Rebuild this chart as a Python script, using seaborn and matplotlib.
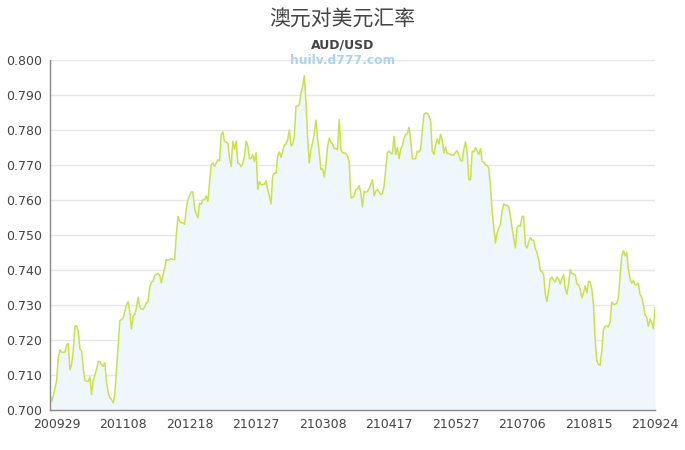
import pandas as pd
import seaborn as sns
import matplotlib.pyplot as plt
from matplotlib.ticker import MultipleLocator, FormatStrFormatter

# daily AUD/USD, first point 2020-09-25
start = "2020-09-25"
rate = [
    0.7045, 0.7025, 0.7040, 0.7062, 0.7085, 0.7150, 0.7172, 0.7165, 0.7165, 0.7165,
    0.7185, 0.7190, 0.7115, 0.7130, 0.7170, 0.7240, 0.7240, 0.7225, 0.7175, 0.7168,
    0.7120, 0.7085, 0.7082, 0.7082, 0.7095, 0.7044, 0.7085, 0.7100, 0.7115, 0.7138,
    0.7139, 0.7130, 0.7125, 0.7135, 0.7080, 0.7050, 0.7035, 0.7030, 0.7020, 0.7045,
    0.7115, 0.7180, 0.7255, 0.7258, 0.7262, 0.7282, 0.7300, 0.7310, 0.7280, 0.7232,
    0.7268, 0.7272, 0.7292, 0.7322, 0.7295, 0.7288, 0.7288, 0.7295, 0.7306, 0.7310,
    0.7350, 0.7365, 0.7368, 0.7385, 0.7387, 0.7390, 0.7385, 0.7363, 0.7385, 0.7405,
    0.7430, 0.7428, 0.7430, 0.7432, 0.7430, 0.7430, 0.7500, 0.7553, 0.7540, 0.7535,
    0.7535, 0.7531, 0.7575, 0.7600, 0.7612, 0.7623, 0.7623, 0.7575, 0.7560, 0.7549,
    0.7591, 0.7588, 0.7601, 0.7601, 0.7612, 0.7596, 0.7650, 0.7700, 0.7706, 0.7696,
    0.7705, 0.7715, 0.7712, 0.7785, 0.7795, 0.7768, 0.7765, 0.7762, 0.7720, 0.7696,
    0.7768, 0.7745, 0.7768, 0.7706, 0.7703, 0.7696, 0.7705, 0.7725, 0.7768, 0.7755,
    0.7718, 0.7718, 0.7730, 0.7710, 0.7735, 0.7630, 0.7653, 0.7644, 0.7644, 0.7645,
    0.7655, 0.7630, 0.7612, 0.7589, 0.7670, 0.7677, 0.7676, 0.7725, 0.7737, 0.7722,
    0.7740, 0.7756, 0.7760, 0.7772, 0.7800, 0.7755, 0.7760, 0.7780, 0.7868, 0.7868,
    0.7873, 0.7905, 0.7925, 0.7955, 0.7880, 0.7780, 0.7706, 0.7745, 0.7763, 0.7790,
    0.7828, 0.7775, 0.7735, 0.7687, 0.7690, 0.7665, 0.7700, 0.7752, 0.7777, 0.7765,
    0.7760, 0.7747, 0.7747, 0.7744, 0.7830, 0.7745, 0.7735, 0.7735, 0.7732, 0.7725,
    0.7710, 0.7606, 0.7607, 0.7612, 0.7630, 0.7632, 0.7641, 0.7620, 0.7580, 0.7625,
    0.7622, 0.7625, 0.7632, 0.7645, 0.7658, 0.7612, 0.7625, 0.7630, 0.7623, 0.7615,
    0.7618, 0.7640, 0.7690, 0.7735, 0.7740, 0.7734, 0.7732, 0.7782, 0.7730, 0.7750,
    0.7718, 0.7745, 0.7755, 0.7775, 0.7787, 0.7790, 0.7808, 0.7770, 0.7718, 0.7718,
    0.7718, 0.7740, 0.7737, 0.7744, 0.7800, 0.7844, 0.7849, 0.7847, 0.7840, 0.7825,
    0.7740, 0.7730, 0.7757, 0.7775, 0.7760, 0.7788, 0.7770, 0.7734, 0.7752, 0.7733,
    0.7732, 0.7730, 0.7728, 0.7728, 0.7736, 0.7741, 0.7728, 0.7712, 0.7712, 0.7745,
    0.7766, 0.7735, 0.7658, 0.7658, 0.7739, 0.7738, 0.7750, 0.7740, 0.7730, 0.7747,
    0.7710, 0.7708, 0.7700, 0.7699, 0.7691, 0.7640, 0.7568, 0.7522, 0.7477, 0.7505,
    0.7520, 0.7530, 0.7568, 0.7589, 0.7585, 0.7585, 0.7580, 0.7555, 0.7520, 0.7492,
    0.7463, 0.7520, 0.7528, 0.7525, 0.7553, 0.7553, 0.7470, 0.7463, 0.7480, 0.7493,
    0.7485, 0.7485, 0.7460, 0.7450, 0.7430, 0.7398, 0.7396, 0.7387, 0.7330, 0.7310,
    0.7340, 0.7375, 0.7380, 0.7370, 0.7366, 0.7380, 0.7375, 0.7360, 0.7375, 0.7387,
    0.7347, 0.7331, 0.7360, 0.7401, 0.7390, 0.7388, 0.7387, 0.7360, 0.7358, 0.7345,
    0.7320, 0.7335, 0.7355, 0.7335, 0.7368, 0.7365, 0.7345, 0.7300, 0.7200, 0.7140,
    0.7130, 0.7128, 0.7170, 0.7230, 0.7240, 0.7240, 0.7238, 0.7250, 0.7308, 0.7302,
    0.7302, 0.7305, 0.7320, 0.7385, 0.7440, 0.7455, 0.7440, 0.7450, 0.7400, 0.7375,
    0.7362, 0.7370, 0.7358, 0.7358, 0.7362, 0.7330, 0.7323, 0.7300, 0.7272, 0.7265,
    0.7239, 0.7260, 0.7250, 0.7232, 0.7293,
]
tick_labels = ["200929", "201108", "201218", "210127", "210308",
               "210417", "210527", "210706", "210815", "210924"]

df = pd.DataFrame({"date": pd.date_range(start, periods=len(rate), freq="D"),
                   "rate": rate})

sns.set_style("white")
plt.rcParams['font.family'] = ['DejaVu Sans']
cjk = ['Noto Sans CJK SC', 'DejaVu Sans']

fig = plt.figure(figsize=(6.85, 4.5), dpi=100)
ax = fig.add_axes([50/685, 40/450, 605/685, 350/450])

ax.fill_between(df["date"], df["rate"], 0.7, color="#eff7fd", lw=0)
sns.lineplot(data=df, x="date", y="rate", color="#c9e24a", linewidth=1.1, ax=ax)

ax.set_ylim(0.7, 0.8)
ax.set_xlim(df["date"].iloc[0], df["date"].iloc[-1])
ax.yaxis.set_major_locator(MultipleLocator(0.01))
ax.yaxis.set_major_formatter(FormatStrFormatter("%.3f"))
ax.set_xticks(pd.to_datetime(tick_labels, format="%y%m%d"))
ax.set_xticklabels(tick_labels)
ax.set_xlabel("")
ax.set_ylabel("")
ax.tick_params(length=0, pad=6, labelsize=9, colors="#444444")

ax.grid(axis="y", color="#e6e6e6", lw=1)
ax.set_axisbelow(True)
for s in ["top", "right"]:
    ax.spines[s].set_visible(False)
for s in ["left", "bottom"]:
    ax.spines[s].set_color("#888888")
    ax.spines[s].set_linewidth(1)

fig.text(0.5, 1-20/450, "澳元对美元汇率", ha="center", va="center",
         fontsize=15, color="#444444", family=cjk)
fig.text(0.5, 1-45/450, "AUD/USD", ha="center", va="center",
         fontsize=9, fontweight="bold", color="#444444")
fig.text(0.5, 1-61/450, "huilv.d777.com", ha="center", va="center",
         fontsize=8.8, fontweight="bold", color="#a8d4ec")

fig.savefig("out.png", dpi=100)
